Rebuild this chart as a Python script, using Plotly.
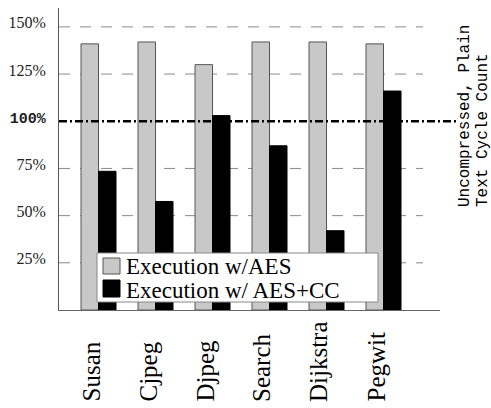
import plotly.graph_objects as go

categories = ["Susan", "Cjpeg", "Djpeg", "Search", "Dijkstra", "Pegwit"]
aes_values = [141, 142, 130, 142, 142, 141]
aes_cc_values = [73.5, 57.5, 103, 87, 42, 116]
series_names = ["Execution w/AES", "Execution w/ AES+CC"]
grid_values = [25, 50, 75, 125, 150]
tick_values = [25, 50, 75, 100, 125, 150]
baseline_value = 100
right_note_lines = ["Uncompressed, Plain", "Text Cycle Count"]

W, H = 491, 408
ML, MR, MT, MB = 59, 51, 8, 98
PW, PH = W - ML - MR, H - MT - MB
YMAX = 160
SERIF = "Liberation Serif"
MONO = "Liberation Mono"
GRAY = "#c8c8c8"


def px_x(p):
    return (p - ML) / PW


def px_y(p):
    return (MT + PH - p) / PH


tick_text = []
for v in tick_values:
    if v == baseline_value:
        tick_text.append('<span style="font-family:%s;font-weight:bold;font-size:15px">%d%%</span>' % (MONO, v))
    else:
        tick_text.append("%d%%" % v)

fig = go.Figure()
fig.add_trace(go.Bar(x=categories, y=aes_values, name=series_names[0],
                     marker=dict(color=GRAY, line=dict(color="#555555", width=1)),
                     showlegend=False))
fig.add_trace(go.Bar(x=categories, y=aes_cc_values, name=series_names[1],
                     marker=dict(color="#000000", line=dict(color="#000000", width=1)),
                     showlegend=False))

shapes = []
for v in grid_values:
    shapes.append(dict(type="line", xref="paper", yref="paper", x0=0, x1=px_x(423),
                       y0=v / YMAX, y1=v / YMAX, layer="below",
                       line=dict(color="#8a8a8a", width=1, dash="11px,10px")))
shapes.append(dict(type="line", xref="paper", yref="paper", x0=0, x1=px_x(457),
                   y0=baseline_value / YMAX, y1=baseline_value / YMAX, layer="above",
                   line=dict(color="#000000", width=2.5, dash="8px,3px,2px,3px")))
# legend box
shapes.append(dict(type="rect", xref="paper", yref="paper", x0=px_x(97), x1=px_x(378),
                   y0=px_y(302), y1=px_y(253), layer="above",
                   fillcolor="white", line=dict(color="#888888", width=1)))
shapes.append(dict(type="rect", xref="paper", yref="paper", x0=px_x(103), x1=px_x(120),
                   y0=px_y(274), y1=px_y(258), layer="above",
                   fillcolor=GRAY, line=dict(color="#555555", width=1)))
shapes.append(dict(type="rect", xref="paper", yref="paper", x0=px_x(103), x1=px_x(120),
                   y0=px_y(297), y1=px_y(280), layer="above",
                   fillcolor="#000000", line=dict(color="#000000", width=1)))

annotations = []
annotations.append(dict(text=series_names[0], xref="paper", yref="paper", x=px_x(124), y=px_y(266),
                        xanchor="left", yanchor="middle", showarrow=False,
                        font=dict(family=SERIF, size=23, color="black")))
annotations.append(dict(text=series_names[1], xref="paper", yref="paper", x=px_x(124), y=px_y(290),
                        xanchor="left", yanchor="middle", showarrow=False,
                        font=dict(family=SERIF, size=23, color="black")))
for c in categories:
    annotations.append(dict(text=c, xref="x", yref="paper", x=c, y=px_y(404), xshift=-8,
                            xanchor="center", yanchor="bottom", textangle=-90, showarrow=False,
                            font=dict(family=SERIF, size=25, color="black")))
note_x = [465, 483]
for i, line in enumerate(right_note_lines):
    annotations.append(dict(text=line, xref="paper", yref="paper", x=px_x(note_x[i]),
                            y=px_y(209), xanchor="center", yanchor="bottom", textangle=-90,
                            showarrow=False, font=dict(family=MONO, size=16, color="black")))

fig.update_layout(
    width=W, height=H,
    margin=dict(l=ML, r=MR, t=MT, b=MB, pad=0),
    paper_bgcolor="white", plot_bgcolor="white",
    barmode="group", bargap=0.386, bargroupgap=0,
    shapes=shapes, annotations=annotations,
    xaxis=dict(range=[-0.693, 5.991], showticklabels=False, ticks="", showgrid=False,
               zeroline=False, showline=True, linecolor="#666666", linewidth=1),
    yaxis=dict(range=[0, YMAX], tickvals=tick_values, ticktext=tick_text, ticks="",
               ticklabelstandoff=9, ticklabelshift=-4, showgrid=False, zeroline=False,
               showline=True, linecolor="#555555", linewidth=1,
               tickfont=dict(family=SERIF, size=16, color="#222222")),
)

fig.write_html("out.html", config={"displayModeBar": False},
               post_script="document.body.style.margin='0';")
